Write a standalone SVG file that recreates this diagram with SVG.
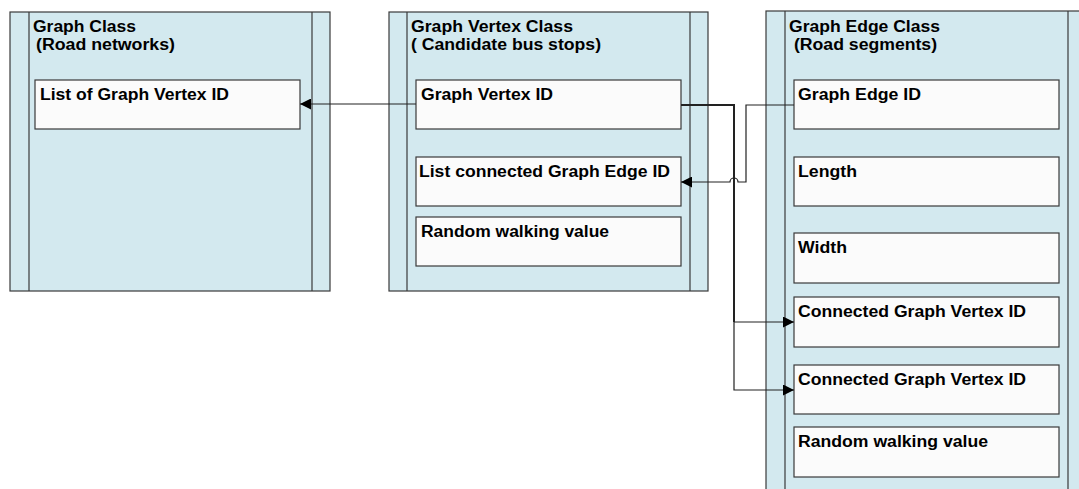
<svg xmlns="http://www.w3.org/2000/svg" width="1079" height="489" viewBox="0 0 1079 489">
<style>
.panel{fill:#d3e9ef;stroke:#3a3a3a;stroke-width:1.2}
.lane{stroke:#3a3a3a;stroke-width:1.2;fill:none}
.box{fill:#fbfbfb;stroke:#3a3a3a;stroke-width:1.2}
text{font-family:"Liberation Sans",Arial,sans-serif;font-weight:bold;font-size:16px;fill:#000}
.conn{fill:none;stroke:#222;stroke-width:1.2}
.thick{fill:none;stroke:#222;stroke-width:2}
</style>
<defs>
<marker id="arr" viewBox="0 0 10 10" refX="10" refY="5" markerWidth="11" markerHeight="11" markerUnits="userSpaceOnUse" orient="auto">
<path d="M0,0 L10,5 L0,10 Z" fill="#000"/>
</marker>
</defs>
<rect width="1079" height="489" fill="#fff"/>
<g id="graph-class">
<rect class="panel" x="10" y="12" width="320" height="279"/>
<line class="lane" x1="29" y1="12" x2="29" y2="291"/>
<line class="lane" x1="312" y1="12" x2="312" y2="291"/>
<text x="33" y="32" textLength="103" lengthAdjust="spacingAndGlyphs">Graph Class</text>
<text x="36" y="50" textLength="139" lengthAdjust="spacingAndGlyphs">(Road networks)</text>
<g id="list-vertex-id"><rect class="box" x="35" y="80" width="265" height="49"/><text x="40" y="100" textLength="189" lengthAdjust="spacingAndGlyphs">List of Graph Vertex ID</text></g>
</g>
<g id="graph-vertex-class">
<rect class="panel" x="389" y="12" width="319" height="279"/>
<line class="lane" x1="407" y1="12" x2="407" y2="291"/>
<line class="lane" x1="690" y1="12" x2="690" y2="291"/>
<text x="411" y="32" textLength="162" lengthAdjust="spacingAndGlyphs">Graph Vertex Class</text>
<text x="411" y="50" textLength="190" lengthAdjust="spacingAndGlyphs">( Candidate bus stops)</text>
<g id="vertex-id"><rect class="box" x="416" y="80" width="265" height="49"/><text x="421" y="100" textLength="132" lengthAdjust="spacingAndGlyphs">Graph Vertex ID</text></g>
<g id="vertex-edges"><rect class="box" x="416" y="157" width="265" height="49"/><text x="419" y="177" textLength="251" lengthAdjust="spacingAndGlyphs">List connected Graph Edge ID</text></g>
<g id="vertex-random"><rect class="box" x="416" y="217" width="265" height="49"/><text x="421" y="237" textLength="188" lengthAdjust="spacingAndGlyphs">Random walking value</text></g>
</g>
<g id="graph-edge-class">
<rect class="panel" x="766" y="11" width="320" height="490"/>
<line class="lane" x1="785" y1="11" x2="785" y2="489"/>
<line class="lane" x1="1068" y1="11" x2="1068" y2="489"/>
<text x="789" y="32" textLength="151" lengthAdjust="spacingAndGlyphs">Graph Edge Class</text>
<text x="794" y="50" textLength="143" lengthAdjust="spacingAndGlyphs">(Road segments)</text>
<g id="edge-id"><rect class="box" x="794" y="80" width="265" height="49"/><text x="798" y="100" textLength="123" lengthAdjust="spacingAndGlyphs">Graph Edge ID</text></g>
<g id="edge-length"><rect class="box" x="794" y="157" width="265" height="49"/><text x="798" y="177" textLength="59" lengthAdjust="spacingAndGlyphs">Length</text></g>
<g id="edge-width"><rect class="box" x="794" y="233" width="265" height="50"/><text x="798" y="253" textLength="49" lengthAdjust="spacingAndGlyphs">Width</text></g>
<g id="edge-v1"><rect class="box" x="794" y="297" width="265" height="50"/><text x="798" y="317" textLength="228" lengthAdjust="spacingAndGlyphs">Connected Graph Vertex ID</text></g>
<g id="edge-v2"><rect class="box" x="794" y="365" width="265" height="49"/><text x="798" y="385" textLength="228" lengthAdjust="spacingAndGlyphs">Connected Graph Vertex ID</text></g>
<g id="edge-random"><rect class="box" x="794" y="427" width="265" height="50"/><text x="798" y="447" textLength="190" lengthAdjust="spacingAndGlyphs">Random walking value</text></g>
</g>
<g id="connectors">
<path class="conn" d="M416,104 H300" marker-end="url(#arr)"/>
<path class="thick" d="M681,105 H734 V322"/>
<path class="conn" d="M734,322 H794" marker-end="url(#arr)"/>
<path class="conn" d="M734,322 V390 H794" marker-end="url(#arr)"/>
<path class="conn" d="M794,105 H746 V182 H738 A4,4 0 0 0 730,182 H681" marker-end="url(#arr)"/>
</g>
</svg>
